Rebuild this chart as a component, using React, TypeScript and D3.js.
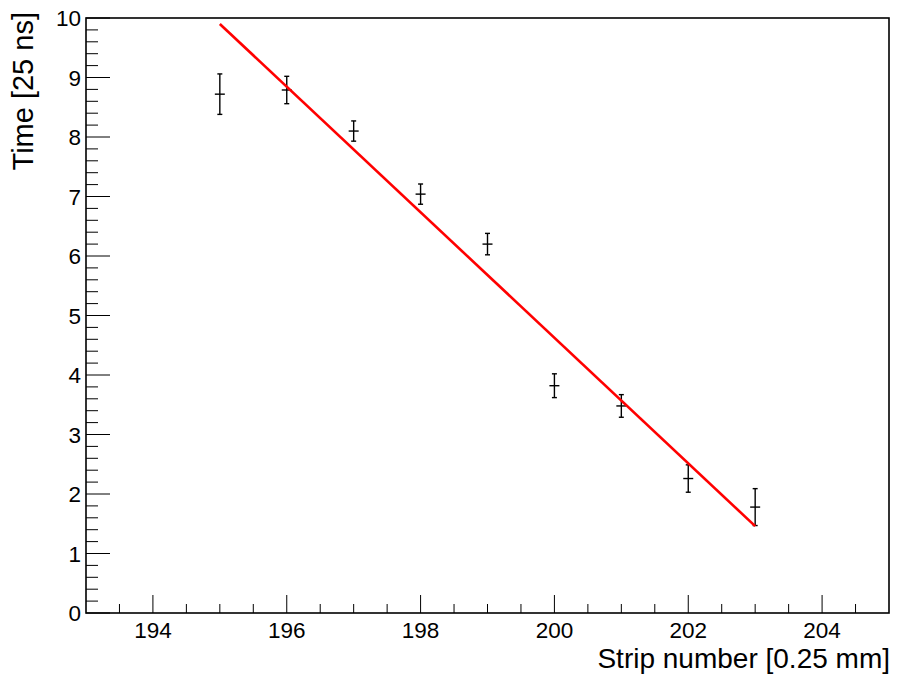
import React from "react";
import * as d3 from "d3";

const strips = [195, 196, 197, 198, 199, 200, 201, 202, 203];
const times = [8.72, 8.79, 8.1, 7.04, 6.2, 3.82, 3.48, 2.26, 1.78];
const timeErrors = [0.34, 0.23, 0.17, 0.17, 0.18, 0.2, 0.19, 0.23, 0.31];
const fitX = [195, 203];
const fitY = [9.9, 1.46];
const xMajorTicks = [194, 196, 198, 200, 202, 204];
const yMajorTicks = [0, 1, 2, 3, 4, 5, 6, 7, 8, 9, 10];

const W = 897;
const H = 680;
const left = 86;
const right = 889;
const top = 18;
const bottom = 613;
const font = "'Liberation Sans', Arial, Helvetica, sans-serif";

export default function App() {
  const x = d3.scaleLinear().domain([193, 205]).range([left, right]);
  const y = d3.scaleLinear().domain([0, 10]).range([bottom, top]);

  const xMinor = d3.range(193.5, 205, 0.5).filter((v) => Math.abs(v / 2 - Math.round(v / 2)) > 1e-6);
  const yMinor = d3.range(0.2, 10, 0.2).filter((v) => Math.abs(v - Math.round(v)) > 1e-6);

  const line = d3
    .line<number>()
    .x((_, i) => x(fitX[i]))
    .y((d) => y(d));

  return (
    <svg
      width={W}
      height={H}
      style={{ position: "absolute", left: 0, top: 0, background: "#fff" }}
    >
      <rect x={0} y={0} width={W} height={H} fill="#fff" />
      {xMinor.map((v) => (
        <line key={"xm" + v} x1={x(v)} x2={x(v)} y1={bottom} y2={bottom - 9} stroke="#000" strokeWidth={1} />
      ))}
      {xMajorTicks.map((v) => (
        <line key={"xM" + v} x1={x(v)} x2={x(v)} y1={bottom} y2={bottom - 18} stroke="#000" strokeWidth={1} />
      ))}
      {yMinor.map((v) => (
        <line key={"ym" + v} x1={left} x2={left + 12} y1={y(v)} y2={y(v)} stroke="#000" strokeWidth={1} />
      ))}
      {yMajorTicks.map((v) => (
        <line key={"yM" + v} x1={left} x2={left + 24} y1={y(v)} y2={y(v)} stroke="#000" strokeWidth={1} />
      ))}
      <rect x={left} y={top} width={right - left} height={bottom - top} fill="none" stroke="#000" strokeWidth={1.6} />
      {xMajorTicks.map((v) => (
        <text key={"xl" + v} x={x(v)} y={637.5} textAnchor="middle" fontFamily={font} fontSize={22.5} fill="#000">
          {v}
        </text>
      ))}
      {yMajorTicks.map((v) => (
        <text key={"yl" + v} x={81} y={y(v) + 8} textAnchor="end" fontFamily={font} fontSize={22.5} fill="#000">
          {v}
        </text>
      ))}
      <text x={890} y={668} textAnchor="end" fontFamily={font} fontSize={28} fill="#000">
        Strip number [0.25 mm]
      </text>
      <text
        transform={`translate(33,12) rotate(-90)`}
        textAnchor="end"
        fontFamily={font}
        fontSize={29}
        fill="#000"
      >
        Time [25 ns]
      </text>
      {strips.map((s, i) => {
        const cx = x(s);
        const cy = y(times[i]);
        const yt = y(times[i] + timeErrors[i]);
        const yb = y(times[i] - timeErrors[i]);
        return (
          <g key={"p" + s} stroke="#000" strokeWidth={1.4}>
            <line x1={cx} x2={cx} y1={yt} y2={yb} />
            <line x1={cx - 2.5} x2={cx + 2.5} y1={yt} y2={yt} />
            <line x1={cx - 2.5} x2={cx + 2.5} y1={yb} y2={yb} />
            <line x1={cx - 5} x2={cx + 5} y1={cy} y2={cy} />
          </g>
        );
      })}
      <path d={line(fitY) || ""} fill="none" stroke="#ff0000" strokeWidth={2.6} />
    </svg>
  );
}
